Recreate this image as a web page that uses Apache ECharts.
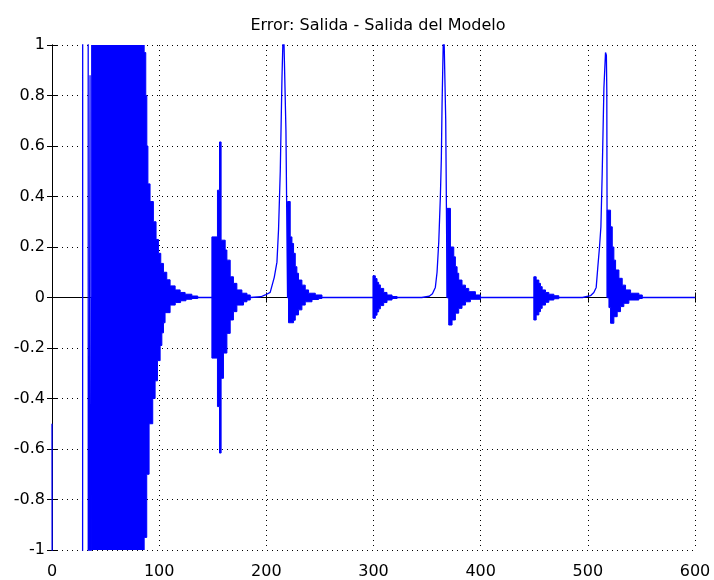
<!DOCTYPE html>
<html><head><meta charset="utf-8">
<script src="https://cdn.jsdelivr.net/npm/echarts@6/dist/echarts.min.js"></script>
<style>html,body{margin:0;padding:0;background:#fff}#c{width:714px;height:580px}</style>
</head><body><div id="c"></div>
<script>
// ---- axis ticks ----
const xTicks = [0, 100, 200, 300, 400, 500, 600];
const yTicks = [-1, -0.8, -0.6, -0.4, -0.2, 0, 0.2, 0.4, 0.6, 0.8, 1];

// ---- smooth (non-oscillating) stretches of the error signal: [x, error] ----
const lead   = [[0,-0.5],[0.6,-3],[28.5,-3],[28.7,3],[33.7,3],[33.9,-3],[35.2,-3],[35.5,0.88],[35.8,-3],[36.5,-3],[37,0]];
const quiet1 = [[136,0],[149.2,0]];
const rise1  = [[185,0],[195,0.003],[199,0.01],[203.6,0.02],[207.4,0.08],[209.9,0.14],[211.4,0.27],[213,0.5],[214.6,0.87],[216,1.1],[217.6,1.1],[218.3,0.66],[219.8,0.66],[219.8,0]];
const quiet2 = [[251.9,0],[299.5,0]];
const rise2  = [[322,0],[345,0],[352,0.005],[355,0.015],[357.7,0.04],[359.3,0.1],[360.9,0.22],[362.4,0.4],[363.3,0.55],[364,0.77],[365.5,1.1],[366.8,1.1],[367.4,0.7],[368.7,0.7],[368.7,0]];
const quiet3 = [[399.8,0],[449.6,0]];
const rise3  = [[472.9,0],[495,0],[502.5,0.007],[505.6,0.02],[507.8,0.04],[509.3,0.12],[510.9,0.2],[512.2,0.28],[513.4,0.49],[515,0.83],[516.5,0.97],[517.3,0.96],[517.7,0.82],[518.1,0.82],[518.1,0]];
const tail   = [[550.8,0],[600,0]];

// ---- dense oscillation bursts: envelope, [x, value from x on]; last upper knot = end ----
const burst1Upper = [[37,3],[86,0.97],[87.5,0.8],[88.5,0.6],[89.5,0.45],[91.5,0.38],[94.6,0.3],[97.1,0.23],[99.3,0.175],[101.5,0.135],[104,0.1],[107.1,0.07],[110.2,0.046],[114.9,0.03],[119.6,0.02],[124.2,0.013],[130.5,0.006],[136,0]];
const burst1Lower = [[37,-3],[86,-0.95],[88.4,-0.7],[90.6,-0.5],[94,-0.4],[96.2,-0.33],[98.4,-0.25],[100.9,-0.19],[102.5,-0.14],[104,-0.1],[105.5,-0.06],[110.2,-0.03],[115,-0.02],[120,-0.013],[125,-0.007],[130.5,-0.004]];
const burst2Upper = [[149.2,0.24],[154.4,0.425],[156.3,0.616],[157.8,0.227],[161.6,0.188],[163.2,0.148],[166.3,0.082],[169.3,0.056],[172.5,0.03],[177.2,0.017],[181.9,0.01],[185,0]];
const burst2Lower = [[149.2,-0.24],[154.4,-0.432],[156.3,-0.616],[157.8,-0.32],[160,-0.22],[163.2,-0.142],[166.3,-0.089],[169.3,-0.056],[172.5,-0.03],[178.7,-0.017],[181.9,-0.01]];
const burst3Upper = [[219.8,0.38],[222.3,0.24],[223.9,0.214],[225.4,0.175],[227,0.122],[228.5,0.096],[230,0.069],[233.2,0.049],[236.3,0.03],[239.4,0.017],[245.7,0.01],[251.9,0]];
const burst3Lower = [[219.8,0],[220.7,-0.1],[225.4,-0.09],[227,-0.069],[230,-0.049],[233.2,-0.03],[236.3,-0.017],[242.6,-0.008],[248.8,-0.004]];
const burst4Upper = [[299.5,0.086],[301.7,0.075],[303.3,0.06],[304.8,0.05],[306.4,0.036],[309.5,0.02],[312.6,0.01],[317.3,0.004],[322,0]];
const burst4Lower = [[299.5,-0.082],[301.7,-0.07],[303.3,-0.057],[304.8,-0.045],[306.4,-0.032],[309.5,-0.02],[312.6,-0.01],[317.3,-0.004]];
const burst5Upper = [[368.7,0.353],[371.8,0.2],[374.9,0.161],[376.4,0.122],[378,0.096],[379.5,0.069],[382.6,0.049],[385.8,0.036],[388.9,0.023],[395.1,0.01],[399.8,0]];
const burst5Lower = [[368.7,0],[370.2,-0.109],[373.3,-0.089],[376.4,-0.062],[379.5,-0.043],[382.6,-0.03],[385.8,-0.017],[390.4,-0.007]];
const burst6Upper = [[449.6,0.082],[451.8,0.069],[454.3,0.056],[455.8,0.043],[457.4,0.03],[460.5,0.02],[463.6,0.013],[468.3,0.007],[472.9,0]];
const burst6Lower = [[449.6,-0.089],[451.8,-0.069],[454.3,-0.056],[455.8,-0.043],[457.4,-0.03],[460.5,-0.019],[463.6,-0.01],[468.3,-0.005]];
const burst7Upper = [[518.1,0.346],[521.2,0.28],[522.8,0.2],[524.3,0.148],[525.9,0.109],[529,0.076],[532.1,0.049],[535.2,0.03],[539.9,0.017],[547.6,0.01],[550.8,0]];
const burst7Lower = [[518.1,0],[519.7,-0.04],[521.2,-0.102],[524.3,-0.076],[527.4,-0.056],[530.5,-0.036],[533.6,-0.023],[538.3,-0.01],[547.6,-0.004]];

const bursts = [
  [burst1Upper, burst1Lower], [burst2Upper, burst2Lower], [burst3Upper, burst3Lower],
  [burst4Upper, burst4Lower], [burst5Upper, burst5Lower], [burst6Upper, burst6Lower],
  [burst7Upper, burst7Lower]
];

// slow part of the signal (the bursts ride on the zero line)
const signal = [].concat(lead, quiet1, rise1, quiet2, rise2, quiet3, rise3, tail);

const FONT = 'DejaVu Sans';
const BLUE = '#0000ff';
const frame = { show: true, lineStyle: { color: '#000', width: 1 } };
const dotted = { show: true, lineStyle: { color: '#000', width: 1, type: [1, 4] } };
const tick = { show: true, inside: true, length: 5, lineStyle: { color: '#000' } };
const fmtY = v => (Math.abs(v) < 1e-9 ? '0' : String(+v.toFixed(1)));

// envelope of one burst -> closed stepped outline, mapped through the axes
function renderBurst(params, api) {
  const [up, lo] = bursts[params.dataIndex];
  const end = up[up.length - 1][0];
  const pts = [];
  for (let k = 0; k < up.length - 1; k++) {
    pts.push(api.coord([up[k][0], up[k][1]]));
    pts.push(api.coord([up[k + 1][0], up[k][1]]));
  }
  const low = [];
  for (let k = 0; k < lo.length; k++) {
    const x1 = k + 1 < lo.length ? lo[k + 1][0] : end;
    low.push(api.coord([lo[k][0], lo[k][1]]));
    low.push(api.coord([x1, lo[k][1]]));
  }
  low.reverse();
  return {
    type: 'polygon',
    shape: { points: pts.concat(low) },
    style: { fill: BLUE, stroke: BLUE, lineWidth: 1 }
  };
}

const chart = echarts.init(document.getElementById('c'), null, { renderer: 'canvas' });
chart.setOption({
  animation: false,
  backgroundColor: '#fff',
  title: {
    text: 'Error: Salida - Salida del Modelo',
    left: 373, textAlign: 'center', top: 13,
    textStyle: { fontFamily: FONT, fontSize: 16, fontWeight: 'normal', color: '#000' }
  },
  grid: { left: 52, right: 19, top: 45, bottom: 30, containLabel: false },
  xAxis: [
    { type: 'value', min: xTicks[0], max: xTicks[xTicks.length - 1], interval: xTicks[1] - xTicks[0],
      position: 'bottom', axisLine: frame, axisTick: tick,
      axisLabel: { margin: 14, fontFamily: FONT, fontSize: 16, color: '#000' },
      splitLine: dotted },
    { type: 'value', min: xTicks[0], max: xTicks[xTicks.length - 1], interval: xTicks[1] - xTicks[0],
      position: 'top', axisLine: frame, axisTick: tick,
      axisLabel: { show: false }, splitLine: { show: false } }
  ],
  yAxis: [
    { type: 'value', min: yTicks[0], max: yTicks[yTicks.length - 1], interval: 0.2,
      position: 'left', axisLine: frame, axisTick: tick,
      axisLabel: { margin: 7, fontFamily: FONT, fontSize: 16, color: '#000', formatter: fmtY },
      splitLine: dotted },
    { type: 'value', min: yTicks[0], max: yTicks[yTicks.length - 1], interval: 0.2,
      position: 'right', axisLine: frame, axisTick: tick,
      axisLabel: { show: false }, splitLine: { show: false } }
  ],
  series: [
    {
      type: 'line', data: signal, xAxisIndex: 0, yAxisIndex: 0,
      showSymbol: false, symbol: 'none', clip: true,
      lineStyle: { color: BLUE, width: 1.3 },
      emphasis: { disabled: true }, z: 3
    },
    {
      type: 'custom', coordinateSystem: 'cartesian2d', xAxisIndex: 0, yAxisIndex: 0,
      data: bursts.map(b => [b[0][0][0], 0]),
      encode: { x: 0, y: 1 },
      renderItem: renderBurst, clip: true, silent: true, z: 3
    }
  ]
});
</script>
</body></html>
